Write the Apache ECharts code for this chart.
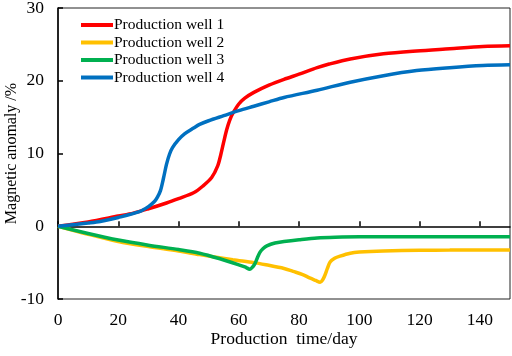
<!DOCTYPE html>
<html>
<head>
<meta charset="utf-8">
<script src="https://cdn.jsdelivr.net/npm/echarts@6/dist/echarts.min.js"></script>
<style>
  html, body { margin: 0; padding: 0; background: #fff; }
  #chart { width: 512px; height: 356px; }
</style>
</head>
<body>
<div id="chart"></div>
<script>
// 井名
var wellNames = ["Production well 1", "Production well 2", "Production well 3", "Production well 4"];
var wellColors = ["#ff0000", "#ffc000", "#00b050", "#0070c0"];

// Production well 1
var well1Days = [0, 10, 20, 25, 30, 36, 40, 45, 48, 51, 53, 54, 55, 56, 57, 58, 60, 62, 65, 70, 75, 80, 86, 90, 97, 108, 119, 130, 141, 150];
var well1Values = [0, 0.6, 1.4, 1.8, 2.4, 3.2, 3.8, 4.6, 5.5, 6.7, 8.3, 9.8, 11.6, 13.3, 14.6, 15.5, 16.8, 17.6, 18.4, 19.4, 20.2, 20.9, 21.8, 22.3, 23.0, 23.7, 24.1, 24.4, 24.7, 24.8];

// Production well 2
var well2Days = [0, 10, 20, 30, 40, 47, 58, 65, 69, 75, 78, 81, 83.5, 85.5, 87, 87.8, 88.6, 89.4, 90.3, 91.8, 93.6, 97, 100, 108, 120, 130, 140, 150];
var well2Values = [0, -1.1, -2.1, -2.8, -3.4, -3.9, -4.6, -5.0, -5.3, -5.8, -6.2, -6.6, -7.1, -7.45, -7.7, -7.4, -6.7, -5.8, -4.9, -4.4, -4.1, -3.7, -3.55, -3.4, -3.3, -3.28, -3.26, -3.25];

// Production well 3
var well3Days = [0, 10, 20, 30, 40, 47, 54, 60, 62, 63.7, 64.6, 65.4, 66.2, 67, 68, 69.3, 72, 75, 80, 86, 92, 100, 120, 150];
var well3Values = [0, -1.0, -1.9, -2.6, -3.2, -3.7, -4.5, -5.3, -5.6, -5.9, -5.6, -5.1, -4.3, -3.6, -3.1, -2.7, -2.3, -2.1, -1.85, -1.6, -1.5, -1.45, -1.45, -1.45];

// Production well 4
var well4Days = [0, 10, 14, 20, 27, 30, 32, 33, 34, 35, 36, 37, 38, 40, 42, 45, 47, 50, 55, 60, 65, 70, 75, 86, 97, 108, 119, 130, 141, 150];
var well4Values = [0, 0.45, 0.66, 1.2, 2.0, 2.7, 3.4, 4.0, 4.9, 6.6, 8.5, 9.9, 10.8, 11.9, 12.7, 13.5, 14.0, 14.5, 15.2, 15.9, 16.5, 17.1, 17.7, 18.7, 19.8, 20.7, 21.4, 21.8, 22.1, 22.2];

function pairs(xs, ys) {
  return xs.map(function (x, i) { return [x, ys[i]]; });
}

var allDays = [well1Days, well2Days, well3Days, well4Days];
var allValues = [well1Values, well2Values, well3Values, well4Values];

var fontFamily = "'Liberation Serif', 'Times New Roman', serif";
var chart = echarts.init(document.getElementById("chart"));

var series = wellNames.map(function (name, i) {
  return {
    name: name,
    type: "line",
    symbol: "none",
    smooth: 0.3,
    lineStyle: { width: 3.5, color: wellColors[i] },
    itemStyle: { color: wellColors[i] },
    data: pairs(allDays[i], allValues[i]),
  };
});

var option = {
  animation: false,
  backgroundColor: "#fff",
  grid: {
    left: 58,
    right: 2,
    top: 8,
    bottom: 57,
    outerBoundsMode: "none",
    show: true,
    borderColor: "#222",
    borderWidth: 1,
  },
  legend: {
    orient: "vertical",
    left: 76,
    top: 12,
    itemWidth: 32,
    itemHeight: 4,
    itemGap: 1.5,
    icon: "rect",
    data: wellNames,
    textStyle: { fontFamily: fontFamily, fontSize: 15.5, color: "#000", padding: [0, 0, 0, -4] },
  },
  xAxis: {
    type: "value",
    min: 0,
    max: 150,
    interval: 20,
    name: "Production  time/day",
    nameLocation: "middle",
    nameGap: 31,
    nameMoveOverlap: false,
    nameTextStyle: { fontFamily: fontFamily, fontSize: 17.5, color: "#000" },
    axisLine: { lineStyle: { color: "#000", width: 1.5 } },
    axisTick: { inside: true, length: 5, lineStyle: { color: "#000", width: 1.5 } },
    axisLabel: { showMaxLabel: false, fontFamily: fontFamily, fontSize: 17.5, color: "#000", margin: 12 },
    splitLine: { show: false },
  },
  yAxis: {
    type: "value",
    min: -10,
    max: 30,
    interval: 10,
    name: "Magnetic anomaly /%",
    nameLocation: "middle",
    nameGap: 38,
    nameMoveOverlap: false,
    nameTextStyle: { fontFamily: fontFamily, fontSize: 16, color: "#000" },
    axisLine: { show: true, lineStyle: { color: "#000", width: 1.5 } },
    axisTick: { show: true, inside: true, length: 5, lineStyle: { color: "#000", width: 1.5 } },
    axisLabel: { fontFamily: fontFamily, fontSize: 17.5, color: "#000", margin: 14 },
    splitLine: { show: false },
  },
  series: series,
};
chart.setOption(option);
</script>
</body>
</html>
